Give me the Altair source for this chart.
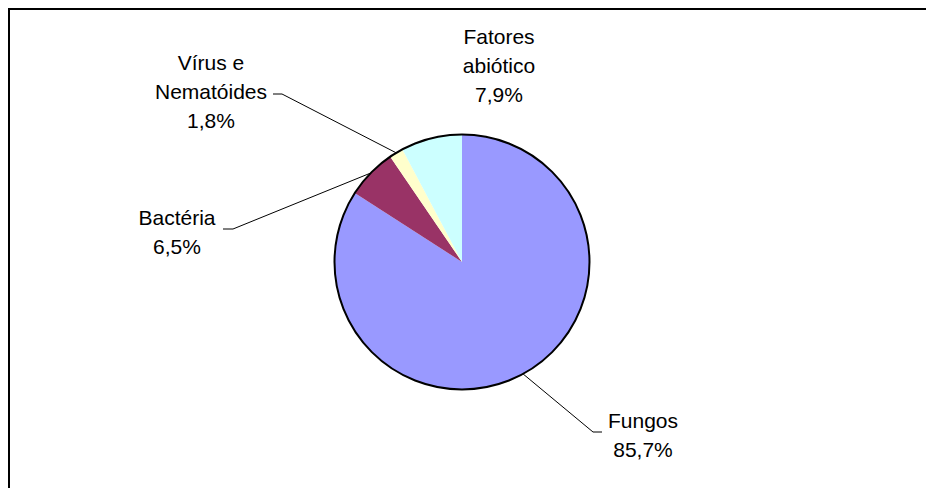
import math
import altair as alt
import pandas as pd

# ---- data ----
categories = ["Fungos", "Bactéria", "Vírus e Nematóides", "Fatores abiótico"]
label_names = ["Fungos", "Bactéria", "Vírus e\nNematóides", "Fatores\nabiótico"]
values = [85.7, 6.5, 1.8, 7.9]
colors = ["#9999FF", "#993366", "#FFFFCC", "#CCFFFF"]

# ---- layout (pixels inside the chart) ----
W, H = 918, 480
CX, CY, R = 454, 254, 127.5
FONT = "Liberation Sans"
FS = 21
LH = 29
# text centre x, first baseline y, leader attach point at label side, elbow point
label_layout = {
    "Fungos": dict(tx=635, ty=420, ax=594, ay=424, ex=585, ey=424),
    "Bactéria": dict(tx=169, ty=217, ax=215, ay=221, ex=225, ey=221),
    "Vírus e Nematóides": dict(tx=203, ty=62, ax=265, ay=86, ex=274, ey=86),
    "Fatores abiótico": dict(tx=491, ty=36),
}

def fmt(v):
    return f"{v:.1f}".replace(".", ",") + "%"

pie_df = pd.DataFrame({
    "cat": categories,
    "value": values,
    "idx": list(range(len(categories))),
})

total = sum(values)
label_rows, leader_rows = [], []
cum = 0.0
for name, lname, v in zip(categories, label_names, values):
    mid = 2 * math.pi * (cum + v / 2) / total
    cum += v
    lay = label_layout[name]
    label_rows.append({"cat": name, "text": lname + "\n" + fmt(v),
                       "x": lay["tx"], "y": lay["ty"]})
    if "ax" in lay:
        ex, ey = CX + R * math.sin(mid), CY - R * math.cos(mid)
        pts = [(ex, ey), (lay["ex"], lay["ey"]), (lay["ax"], lay["ay"])]
        for k, (px, py) in enumerate(pts):
            leader_rows.append({"cat": name, "o": k, "x": px, "y": py})

label_df = pd.DataFrame(label_rows)
leader_df = pd.DataFrame(leader_rows)

# frame: left and top border of the chart box (bottom/right fall outside the picture)
frame_df = pd.DataFrame({"x": [1, 1, W + 20], "y": [H + 20, 1, 1], "o": [0, 1, 2]})

xs = alt.Scale(domain=[0, W], nice=False, zero=False)
ys = alt.Scale(domain=[0, H], nice=False, zero=False, reverse=True)

pie = alt.Chart(pie_df).mark_arc(outerRadius=R, strokeWidth=0).encode(
    theta=alt.Theta("value:Q", stack=True),
    order=alt.Order("idx:Q"),
    color=alt.Color("cat:N", scale=alt.Scale(domain=categories, range=colors), legend=None),
    x=alt.value(CX),
    y=alt.value(CY),
)

outline = alt.Chart(pd.DataFrame({"v": [1]})).mark_arc(
    outerRadius=R, fillOpacity=0, stroke="black", strokeWidth=2,
    theta=0, theta2=2 * math.pi,
).encode(x=alt.value(CX), y=alt.value(CY))

leaders = alt.Chart(leader_df).mark_line(color="black", strokeWidth=1).encode(
    x=alt.X("x:Q", scale=xs, axis=None),
    y=alt.Y("y:Q", scale=ys, axis=None),
    detail="cat:N",
    order="o:Q",
)

labels = alt.Chart(label_df).mark_text(
    font=FONT, fontSize=FS, lineHeight=LH, lineBreak="\n",
    align="center", baseline="alphabetic", color="black",
).encode(
    x=alt.X("x:Q", scale=xs, axis=None),
    y=alt.Y("y:Q", scale=ys, axis=None),
    text="text:N",
)

frame = alt.Chart(frame_df).mark_line(color="black", strokeWidth=2, clip=False).encode(
    x=alt.X("x:Q", scale=xs, axis=None),
    y=alt.Y("y:Q", scale=ys, axis=None),
    order="o:Q",
)

chart = alt.layer(pie, outline, leaders, labels, frame).properties(
    width=W, height=H, padding=0, background="white",
    autosize=alt.AutoSizeParams(type="none"),
).configure_view(stroke="transparent", strokeWidth=0, strokeOpacity=0)

chart.save("out.html", embed_options={"renderer": "svg", "actions": False})
